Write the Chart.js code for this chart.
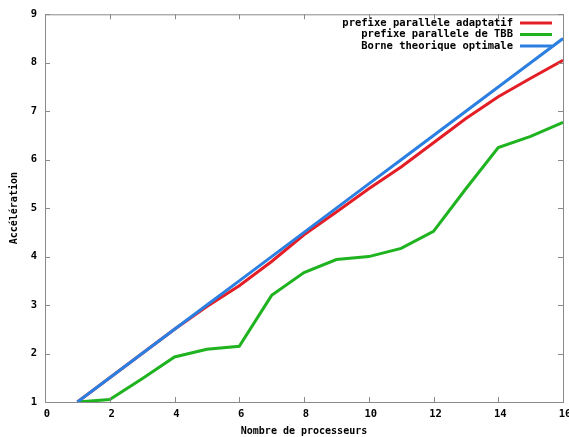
<!DOCTYPE html>
<html>
<head>
<meta charset="utf-8">
<script src="https://cdn.jsdelivr.net/npm/chart.js@4/dist/chart.umd.min.js"></script>
<style>
  html, body { margin: 0; padding: 0; background: #fff; }
  #wrap { width: 569px; height: 437px; }
</style>
</head>
<body>
<div id="wrap"><canvas id="chart" width="569" height="437"></canvas></div>
<script>
  const procs     = [1, 2, 3, 4, 5, 6, 7, 8, 9, 10, 11, 12, 13, 14, 15, 16];
  const adaptatif = [1, 1.5, 2, 2.5, 2.97, 3.4, 3.9, 4.45, 4.92, 5.4, 5.85, 6.35, 6.85, 7.3, 7.68, 8.05];
  const tbb       = [1, 1.05, 1.48, 1.93, 2.09, 2.15, 3.2, 3.67, 3.94, 4.0, 4.17, 4.52, 5.4, 6.25, 6.48, 6.77];
  const borne     = [1, 1.5, 2, 2.5, 3, 3.5, 4, 4.5, 5, 5.5, 6, 6.5, 7, 7.5, 8, 8.5];
  const seriesNames = ['prefixe parallele adaptatif', 'prefixe parallele de TBB', 'Borne theorique optimale'];

  const red   = '#e41e26';
  const green = '#1fb31f';
  const blue  = '#2b7fe0';
  const axisGray = '#8a8a8a';
  const monoFont = { family: "'DejaVu Sans Mono', monospace", size: 10.5, weight: 'bold' };

  const pts = vals => procs.map((p, i) => ({ x: p, y: vals[i] }));

  // gnuplot style frame: box + inward ticks + key at top right
  const gnuplotFrame = {
      id: 'gnuplotFrame',
      afterDatasetsDraw(chart) {
          const { ctx, chartArea: a, scales: { x, y } } = chart;
          ctx.save();
          ctx.strokeStyle = axisGray;
          ctx.lineWidth = 1;
          ctx.strokeRect(a.left + 0.5, a.top + 0.5, a.right - a.left, a.bottom - a.top);
          ctx.beginPath();
          x.ticks.forEach(t => {
              const px = Math.round(x.getPixelForValue(t.value)) + 0.5;
              ctx.moveTo(px, a.bottom); ctx.lineTo(px, a.bottom - 5);
              ctx.moveTo(px, a.top); ctx.lineTo(px, a.top + 5);
          });
          y.ticks.forEach(t => {
              const py = Math.round(y.getPixelForValue(t.value)) + 0.5;
              ctx.moveTo(a.left, py); ctx.lineTo(a.left + 5, py);
              ctx.moveTo(a.right, py); ctx.lineTo(a.right - 5, py);
          });
          ctx.stroke();

          ctx.font = `bold ${monoFont.size}px ${monoFont.family}`;
          ctx.textAlign = 'right';
          ctx.textBaseline = 'middle';
          const rowsY = [23, 34.5, 46];
          chart.data.datasets.forEach((ds, i) => {
              ctx.fillStyle = '#000';
              ctx.fillText(ds.label, 513, rowsY[i]);
              ctx.strokeStyle = ds.borderColor;
              ctx.lineWidth = 3;
              ctx.beginPath();
              ctx.moveTo(520, rowsY[i]); ctx.lineTo(552, rowsY[i]);
              ctx.stroke();
          });
          ctx.restore();
      }
  };

  new Chart(document.getElementById('chart'), {
      type: 'line',
      data: {
          datasets: [
              { label: seriesNames[0], data: pts(adaptatif), borderColor: red,   order: 2 },
              { label: seriesNames[1], data: pts(tbb),       borderColor: green, order: 1 },
              { label: seriesNames[2], data: pts(borne),     borderColor: blue,  order: 0 }
          ]
      },
      options: {
          responsive: false,
          devicePixelRatio: 1,
          animation: false,
          datasets: { line: { borderWidth: 3, pointRadius: 0, tension: 0, fill: false } },
          layout: { padding: { left: 0, right: 6, top: 14, bottom: 0 } },
          plugins: { legend: { display: false }, tooltip: { enabled: false } },
          scales: {
              x: {
                  type: 'linear', min: 0, max: 16,
                  ticks: { stepSize: 2, color: '#000', font: monoFont, padding: 6, labelOffset: 2 },
                  grid: { drawOnChartArea: false, drawTicks: false },
                  border: { color: axisGray },
                  title: { display: true, text: 'Nombre de processeurs', color: '#000',
                           font: { family: monoFont.family, size: 10, weight: 'bold' }, padding: 0 },
                  afterFit: s => { s.height = 35; s.paddingLeft = 0; s.paddingRight = 0; }
              },
              y: {
                  min: 1, max: 9,
                  ticks: { stepSize: 1, color: '#000', font: monoFont, padding: 8 },
                  grid: { drawOnChartArea: false, drawTicks: false },
                  border: { color: axisGray },
                  title: { display: true, text: 'Accélération', color: '#000',
                           font: { family: monoFont.family, size: 10, weight: 'bold' }, padding: { top: 8 } },
                  afterFit: s => { s.width = 45; }
              }
          }
      },
      plugins: [gnuplotFrame]
  });
</script>
</body>
</html>
